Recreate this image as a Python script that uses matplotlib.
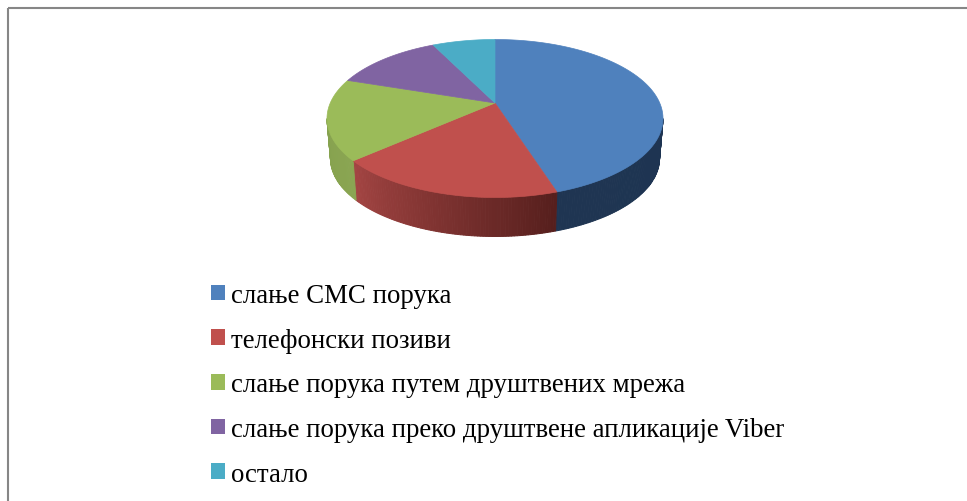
"""3D-looking pie chart with a legend, drawn on a pixel-sized axes."""

import numpy as np
import matplotlib

matplotlib.use("Agg")
import matplotlib.pyplot as plt
from matplotlib.colors import to_rgb
from matplotlib.patches import Patch, Polygon

plt.rcParams["font.family"] = ["Liberation Serif", "DejaVu Serif"]

labels = [
    "слање СМС порука",
    "телефонски позиви",
    "слање порука путем друштвених мрежа",
    "слање порука преко друштвене апликације Viber",
    "остало",
]
shares = [44, 22, 17, 11, 6]
colors = ["#4f81bd", "#c0504d", "#9bbb59", "#8064a2", "#4bacc6"]
# side shade of each slice at its start and end angle
side_colors = [
    ("#1c3351", "#1f3552"),
    ("#561f1d", "#a44543"),
    ("#8aa552", "#83a04c"),
    ("#5e4a78", "#5e4a78"),
    ("#36808f", "#36808f"),
]


def top_rim(theta):
    # theta in degrees, clockwise from the top of the ellipse
    t = np.radians(theta)
    return 495 + 168 * np.sin(t), 119.5 - 79 * np.cos(t)


def bottom_rim(theta):
    t = np.radians(theta)
    return 495 + 164.5 * np.sin(t), 159.5 - 78 * np.cos(t)


fig = plt.figure(figsize=(9.67, 5.02), dpi=100)
ax = fig.add_axes([0, 0, 1, 1])
ax.set_xlim(0, 967)
ax.set_ylim(502, 0)
ax.axis("off")

# chart frame: only left and top are visible in the crop
ax.plot([7.5, 7.5], [502, 8.5], color="#868686", lw=1.5, solid_capstyle="butt")
ax.plot([7.5, 967], [8.5, 8.5], color="#868686", lw=1.5, solid_capstyle="butt")

edges = np.concatenate([[0], np.cumsum(shares)]) / np.sum(shares) * 360

# sides, only the front half of the rim shows
for i in range(len(shares)):
    a, b = max(edges[i], 90), min(edges[i + 1], 270)
    if a >= b:
        continue
    c0 = np.array(to_rgb(side_colors[i][0]))
    c1 = np.array(to_rgb(side_colors[i][1]))
    steps = np.linspace(a, b, int(b - a) + 2)
    for s0, s1 in zip(steps[:-1], steps[1:]):
        f = (s0 - edges[i]) / (edges[i + 1] - edges[i])
        col = c0 + (c1 - c0) * f
        th = np.array([s0, s1])
        xt, yt = top_rim(th)
        xb, yb = bottom_rim(th[::-1])
        ax.add_patch(Polygon(np.column_stack([np.r_[xt, xb], np.r_[yt, yb]]),
                             facecolor=col, edgecolor=col, lw=0.7))

# top face, slices meet at the perspective apex
apex = (495, 104)
for i in range(len(shares)):
    th = np.linspace(edges[i], edges[i + 1], 120)
    x, y = top_rim(th)
    pts = np.column_stack([np.r_[apex[0], x], np.r_[apex[1], y]])
    ax.add_patch(Polygon(pts, facecolor=colors[i], edgecolor=colors[i], lw=0.5))

handles = [Patch(facecolor=c, edgecolor="none") for c in colors]
fs = 19.4
px = fs * 100 / 72
leg = ax.legend(
    handles, labels,
    loc="upper left",
    bbox_to_anchor=(211 / 967, 1 - 284 / 502),
    frameon=False,
    fontsize=fs,
    handlelength=14 / px,
    handleheight=14 / px,
    handletextpad=0.22,
    labelspacing=0.73,
    borderpad=0,
    borderaxespad=0,
)

fig.savefig("out.png", dpi=100)
